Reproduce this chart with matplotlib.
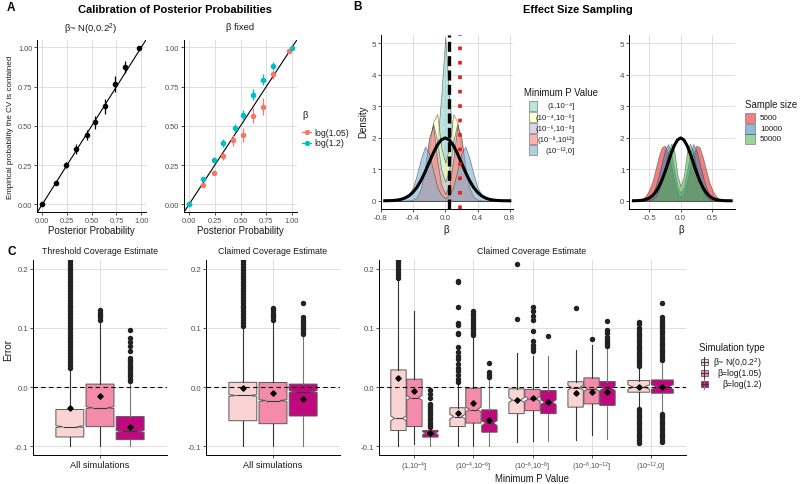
import matplotlib
matplotlib.use("Agg")
import matplotlib.pyplot as plt
from matplotlib.patches import Rectangle
from matplotlib.lines import Line2D
import numpy as np

plt.rcParams['font.family'] = ['Liberation Sans', 'DejaVu Sans']
plt.rcParams['mathtext.fontset'] = 'custom'
plt.rcParams['mathtext.rm'] = 'Liberation Sans'
plt.rcParams['mathtext.it'] = 'Liberation Sans:italic'
plt.rcParams['axes.unicode_minus'] = False

nan = np.nan

# ---------------- A: calibration ----------------
post_norm = [0.0, 0.135, 0.24, 0.34, 0.455, 0.532, 0.637, 0.738, 0.84, 0.974]
emp_norm = [0.0, 0.134, 0.25, 0.352, 0.443, 0.522, 0.624, 0.766, 0.876, 0.995]
err_norm = [0.003, 0.005, 0.017, 0.03, 0.03, 0.042, 0.048, 0.053, 0.037, 0.005]

post_105 = [0.0, 0.139, 0.243, 0.333, 0.43, 0.521, 0.618, 0.716, 0.813, 0.97]
emp_105 = [0.0, 0.126, 0.202, 0.307, 0.408, 0.444, 0.565, 0.622, 0.828, 0.975]
err_105 = [0.003, 0.008, 0.015, 0.025, 0.035, 0.045, 0.05, 0.055, 0.03, 0.01]

post_12 = [0.0, 0.139, 0.243, 0.333, 0.45, 0.521, 0.618, 0.716, 0.813, 1.0]
emp_12 = [0.0, 0.164, 0.284, 0.391, 0.486, 0.568, 0.698, 0.795, 0.883, 0.995]
err_12 = [0.003, 0.012, 0.018, 0.025, 0.025, 0.03, 0.035, 0.035, 0.025, 0.005]

# ---------------- B: effect size densities ----------------
beta_grid = [-0.75, -0.7, -0.65, -0.6, -0.55, -0.5, -0.45, -0.4, -0.35, -0.3, -0.25,
             -0.2, -0.15, -0.1, -0.05, 0.0, 0.05, 0.1, 0.15, 0.2, 0.25, 0.3, 0.35,
             0.4, 0.45, 0.5, 0.55, 0.6, 0.65, 0.7, 0.75, 0.8]
prior_dens = [0.002, 0.004, 0.01, 0.022, 0.045, 0.088, 0.159, 0.27, 0.431, 0.648, 0.913,
              1.21, 1.506, 1.76, 1.933, 1.995, 1.933, 1.76, 1.506, 1.21, 0.913, 0.648, 0.431,
              0.27, 0.159, 0.088, 0.045, 0.022, 0.01, 0.004, 0.002, 0.001]

pval_labels = ['(1,10⁻⁴]', '(10⁻⁴,10⁻⁶]', '(10⁻⁶,10⁻⁸]', '(10⁻⁸,10¹²]', '(10⁻¹²,0]']
dens_p1 = [0, 0, 0, 0, 0, 0, 0, 0, 0.01, 0.05, 0.15, 0.4, 0.9, 1.8, 3.3, 5.2, 3.3, 1.8, 0.9,
           0.4, 0.15, 0.05, 0.01, 0, 0, 0, 0, 0, 0, 0, 0, 0]
dens_p2 = [0, 0, 0, 0, 0, 0, 0, 0.02, 0.08, 0.28, 0.75, 1.6, 2.5, 2.75, 1.7, 1.2, 1.7, 2.75,
           2.5, 1.6, 0.75, 0.28, 0.08, 0.02, 0, 0, 0, 0, 0, 0, 0, 0]
dens_p3 = [0, 0, 0, 0, 0, 0, 0, 0.03, 0.12, 0.4, 1.0, 1.9, 2.45, 1.9, 1.0, 0.6, 1.0, 1.9,
           2.45, 1.9, 1.0, 0.4, 0.12, 0.03, 0, 0, 0, 0, 0, 0, 0, 0]
dens_p4 = [0, 0, 0, 0, 0, 0, 0.01, 0.04, 0.13, 0.42, 1.1, 2.0, 2.38, 1.3, 0.5, 0.22, 0.5, 1.3,
           2.38, 2.0, 1.1, 0.42, 0.13, 0.04, 0.01, 0, 0, 0, 0, 0, 0, 0]
dens_p5 = [0, 0, 0.01, 0.02, 0.05, 0.1, 0.2, 0.42, 0.85, 1.35, 1.72, 1.5, 0.95, 0.45, 0.18,
           0.08, 0.18, 0.45, 0.95, 1.5, 1.72, 1.35, 0.85, 0.42, 0.2, 0.1, 0.05, 0.02, 0.01, 0, 0, 0]
pval_dens = [dens_p1, dens_p2, dens_p3, dens_p4, dens_p5]
pval_colors = ['#8DD3C7', '#FFFFB3', '#BEBADA', '#FB8072', '#80B1D3']

size_labels = ['5000', '10000', '50000']
dens_5000 = [0, 0.01, 0.03, 0.07, 0.17, 0.35, 0.62, 1.0, 1.4, 1.7, 1.75, 1.5, 1.1, 0.6, 0.25,
             0.12, 0.25, 0.6, 1.1, 1.5, 1.75, 1.7, 1.4, 1.0, 0.62, 0.35, 0.17, 0.07, 0.03, 0.01, 0, 0]
dens_10000 = [0, 0, 0, 0.01, 0.04, 0.1, 0.22, 0.45, 0.8, 1.2, 1.6, 1.8, 1.5, 0.95, 0.45,
              0.25, 0.45, 0.95, 1.5, 1.8, 1.6, 1.2, 0.8, 0.45, 0.22, 0.1, 0.04, 0.01, 0, 0, 0, 0]
dens_50000 = [0, 0, 0, 0, 0, 0.02, 0.05, 0.14, 0.32, 0.62, 1.05, 1.5, 1.82, 1.55, 0.8,
              0.45, 0.8, 1.55, 1.82, 1.5, 1.05, 0.62, 0.32, 0.14, 0.05, 0.02, 0, 0, 0, 0, 0, 0]
size_dens = [dens_5000, dens_10000, dens_50000]
size_colors = ['#E41A1C', '#377EB8', '#4DAF4A']
beta_105 = 0.0488
beta_12 = 0.1823

# ---------------- C: coverage error boxplots ----------------
sim_labels = ['β~ N(0,0.2$^2$)', 'β=log(1.05)', 'β=log(1.2)']
sim_colors = ['#FAD4D3', '#F48BAA', '#C0087F']
whisk_colors = ['#333333', '#333333', '#777777']

thr_q1 = [-0.0845, -0.067, -0.089]
thr_med = [-0.067, -0.035, -0.075]
thr_q3 = [-0.038, 0.005, -0.050]
thr_lo = [-0.100, -0.100, -0.100]
thr_hi = [0.030, 0.112, 0.008]
thr_mean = [-0.035, -0.0155, -0.068]
thr_out = [
    [0.033, 0.038, 0.043, 0.048, 0.053, 0.058, 0.063, 0.068, 0.073, 0.078, 0.083, 0.088,
     0.093, 0.098, 0.103, 0.108, 0.113, 0.118, 0.123, 0.128, 0.133, 0.138, 0.143, 0.148,
     0.153, 0.158, 0.163, 0.168, 0.173, 0.178, 0.183, 0.188, 0.193, 0.198, 0.203, 0.208,
     0.213, 0.218],
    [0.114, 0.118, 0.122, 0.126, 0.130],
    [0.010, 0.014, 0.018, 0.022, 0.026, 0.030, 0.034, 0.038, 0.042, 0.046, 0.050,
     0.061, 0.069, 0.077, 0.083, 0.097],
]

clm_q1 = [-0.057, -0.062, -0.049]
clm_med = [-0.0143, -0.0228, -0.0076]
clm_q3 = [0.008, 0.0077, 0.005]
clm_lo = [-0.100, -0.100, -0.100]
clm_hi = [0.100, 0.112, 0.086]
clm_mean = [-0.001, -0.0098, -0.0195]
clm_out = [
    [0.103, 0.108, 0.113, 0.118, 0.123, 0.128, 0.133, 0.138, 0.143, 0.148, 0.153, 0.158,
     0.163, 0.168, 0.173, 0.178, 0.183, 0.188, 0.193, 0.198, 0.203, 0.208, 0.213, 0.218],
    [0.114, 0.118, 0.122, 0.126, 0.130, 0.134],
    [0.090, 0.094, 0.098, 0.102, 0.106, 0.110, 0.114, 0.118, 0.142],
]

mp_labels = ['(1,10$^{-4}$]', '(10$^{-4}$,10$^{-6}$]', '(10$^{-6}$,10$^{-8}$]',
             '(10$^{-8}$,10$^{-12}$]', '(10$^{-12}$,0]']
mp_q1 = [[-0.0736, -0.0668, -0.0847], [-0.0668, -0.061, -0.0764], [-0.045, -0.040, -0.045],
         [-0.034, -0.0285, -0.031], [-0.0087, nan, -0.0104]]
mp_med = [[-0.053, -0.0183, -0.078], [-0.050, -0.038, -0.061], [-0.022, -0.020, -0.0256],
          [-0.001, -0.003, -0.002], [0.0, nan, 0.0]]
mp_q3 = [[0.029, 0.0133, -0.0736], [-0.035, -0.002, -0.0386], [-0.003, -0.004, -0.006],
         [0.009, 0.0155, 0.0093], [0.011, nan, 0.012]]
mp_lo = [[-0.100, -0.097, -0.100], [-0.100, -0.100, -0.100], [-0.093, -0.0905, -0.091],
         [-0.089, -0.081, -0.0877], [-0.035, nan, -0.043]]
mp_hi = [[0.180, 0.128, -0.071], [0.005, 0.085, 0.012], [0.058, 0.052, 0.053],
         [0.062, 0.072, 0.0675], [0.034, nan, 0.043]]
mp_mean = [[0.016, -0.006, -0.077], [-0.044, -0.027, -0.055], [-0.022, -0.019, -0.025],
           [-0.0104, -0.0076, -0.0076], [0.0, nan, 0.0]]
mp_out = [
    [[0.185, 0.190, 0.195, 0.200, 0.205, 0.210, 0.215], [],
     [-0.068, -0.064, -0.060, -0.056, -0.052, -0.048, -0.044, -0.040, -0.036, -0.032,
      -0.028, -0.018, -0.0115, -0.005]],
    [[0.008, 0.014, 0.020, 0.027, 0.033, 0.039, 0.047, 0.053, 0.060, 0.067, 0.090, 0.092,
      0.105, 0.108, 0.136, 0.177, 0.180],
     [0.088, 0.092, 0.096, 0.100, 0.104, 0.108, 0.112, 0.116, 0.120, 0.124, 0.128],
     [0.017, 0.021, 0.025, 0.041]],
    [[0.116, 0.208],
     [0.061, 0.066, 0.072, 0.0776, 0.0946, 0.114, 0.121, 0.128, 0.135],
     [0.087]],
    [[0.1335], [0.0815],
     [0.070, 0.073, 0.076, 0.079, 0.0855, 0.091, 0.097, 0.1126]],
    [[0.036, 0.040, 0.044, 0.048, 0.052, 0.056, 0.060, 0.064, 0.068, 0.072, 0.076, 0.080,
      0.084, 0.088, 0.092, 0.096, 0.100, 0.106, 0.110,
      -0.037, -0.041, -0.045, -0.049, -0.053, -0.057, -0.061, -0.065, -0.069, -0.073,
      -0.077, -0.081, -0.085, -0.089, -0.0944],
     [],
     [0.045, 0.049, 0.053, 0.057, 0.061, 0.065, 0.069, 0.073, 0.077, 0.081, 0.085, 0.089,
      0.093, 0.097, 0.101, 0.105, 0.109, 0.113, 0.118, 0.142,
      -0.045, -0.049, -0.053, -0.057, -0.061, -0.065, -0.069, -0.073, -0.077, -0.081,
      -0.085, -0.089, -0.093]],
]

# ---------------- figure helpers ----------------
W, H = 800, 485
fig = plt.figure(figsize=(8, 4.85), dpi=100)


def add_ax(l, t, r, b):
    return fig.add_axes([l / W, 1 - b / H, (r - l) / W, (b - t) / H])


def ftext(x, y, s, **kw):
    kw.setdefault('ha', 'center')
    kw.setdefault('va', 'center')
    fig.text(x / W, 1 - y / H, s, **kw)


def frect(x0, y0, x1, y1, **kw):
    fig.patches.append(Rectangle((x0 / W, 1 - y1 / H), (x1 - x0) / W, (y1 - y0) / H,
                                 transform=fig.transFigure, figure=fig, **kw))


def fline(xs, ys, **kw):
    fig.lines.append(Line2D([x / W for x in xs], [1 - y / H for y in ys],
                            transform=fig.transFigure, figure=fig, **kw))


def style(ax, size):
    for s in ['top', 'right']:
        ax.spines[s].set_visible(False)
    for s in ['left', 'bottom']:
        ax.spines[s].set_color('black')
        ax.spines[s].set_linewidth(0.7)
    ax.grid(True, color='#DEDEDE', lw=0.7)
    ax.set_axisbelow(True)
    ax.tick_params(length=2, width=0.6, color='#333333', labelcolor='#4D4D4D',
                   labelsize=size, pad=1.5)


# ---------------- A ----------------
red, teal = '#F8766D', '#00BFC4'
axA1 = add_ax(37.3, 40.5, 146.2, 213.2)
axA2 = add_ax(183.9, 40.5, 297.2, 213.2)
for ax in (axA1, axA2):
    style(ax, 5.3)
    ax.set_xlim(-0.05, 1.05)
    ax.set_ylim(-0.05, 1.05)
    ax.set_xticks([0, 0.25, 0.5, 0.75, 1.0])
    ax.set_yticks([0, 0.25, 0.5, 0.75, 1.0])
    ax.set_xticklabels(['0.00', '0.25', '0.50', '0.75', '1.00'])
    ax.set_yticklabels(['0.00', '0.25', '0.50', '0.75', '1.00'])
    ax.axline((0, 0), slope=1, color='black', lw=0.8, zorder=2)
axA1.errorbar(post_norm, emp_norm, yerr=err_norm, fmt='o', color='black', ms=3,
              elinewidth=0.9, capsize=0, zorder=3)
axA2.errorbar(post_105, emp_105, yerr=err_105, fmt='o', color=red, ms=3,
              elinewidth=0.9, capsize=0, zorder=3)
axA2.errorbar(post_12, emp_12, yerr=err_12, fmt='o', color=teal, ms=3,
              elinewidth=0.9, capsize=0, zorder=3)

ftext(174.5, 10, 'Calibration of Posterior Probabilities', fontsize=8, fontweight='bold')
ftext(7, 8, 'A', fontsize=8.5, fontweight='bold', ha='left')
ftext(91, 29, 'β~ N(0,0.2$^2$)', fontsize=6.8, color='#1A1A1A')
ftext(240, 28, 'β fixed', fontsize=6.8, color='#1A1A1A')
ftext(91, 231, 'Posterior Probability', fontsize=7, color='#1A1A1A')
ftext(240, 231, 'Posterior Probability', fontsize=7, color='#1A1A1A')
ftext(10.5, 127, 'Empirical probability the CV is contained', fontsize=5.8,
      rotation=90, color='#1A1A1A')
# legend for beta
ftext(302, 116, 'β', fontsize=6.8, ha='left', color='#1A1A1A')
for yy, col, lab in [(133, red, 'log(1.05)'), (144, teal, 'log(1.2)')]:
    fline([302, 311], [yy, yy], color=col, lw=0.9)
    fline([306.5], [yy], color=col, marker='o', ms=2.8, ls='none')
    ftext(314, yy, lab, fontsize=6.3, ha='left', color='#1A1A1A')

# ---------------- B ----------------
axB1 = add_ax(380.7, 36, 513, 210)
axB2 = add_ax(629.3, 36, 735, 210)
for ax in (axB1, axB2):
    style(ax, 5.8)
    ax.set_ylim(-0.26, 5.26)
    ax.set_yticks([0, 1, 2, 3, 4, 5])
axB1.set_xlim(-0.8, 0.84)
axB1.set_xticks([-0.8, -0.4, 0.0, 0.4, 0.8])
axB1.set_xticklabels(['-0.8', '-0.4', '0.0', '0.4', '0.8'])
axB2.set_xlim(-0.816, 0.862)
axB2.set_xticks([-0.5, 0.0, 0.5])
axB2.set_xticklabels(['-0.5', '0.0', '0.5'])

for dens, col in zip(pval_dens, pval_colors):
    axB1.fill_between(beta_grid, dens, 0, facecolor=col, alpha=0.6,
                      edgecolor='#333333', lw=0.5, zorder=2)
axB1.plot(beta_grid, prior_dens, color='black', lw=2.2, zorder=4)
axB1.axvline(beta_105, color='black', lw=2.4, ls=(0, (3, 1.3)), zorder=5)
axB1.axvline(beta_12, color='#E41A1C', lw=2.6, ls=(0, (1, 3.0)), zorder=5)

for dens, col in zip(size_dens, size_colors):
    axB2.fill_between(beta_grid, dens, 0, facecolor=col, alpha=0.55,
                      edgecolor='#333333', lw=0.5, zorder=2)
axB2.plot(beta_grid, prior_dens, color='black', lw=2.2, zorder=4)

ftext(578, 10, 'Effect Size Sampling', fontsize=8, fontweight='bold')
ftext(357, 7, 'B', fontsize=8.5, fontweight='bold')
ftext(363, 122, 'Density', fontsize=7, rotation=90, color='#1A1A1A')
ftext(446, 230, 'β', fontsize=7, color='#1A1A1A')
ftext(681, 230, 'β', fontsize=7, color='#1A1A1A')

ftext(524, 92.7, 'Minimum P Value', fontsize=6.9, ha='left', color='#1A1A1A')
for i, (lab, col) in enumerate(zip(pval_labels, pval_colors)):
    yc = 107 + i * 11
    frect(529, yc - 5.2, 537, yc + 5.2, facecolor=col, alpha=0.6, edgecolor='#333333', lw=0.5)
    ftext(575, yc, lab, fontsize=5.6, ha='right', color='#1A1A1A')

ftext(745, 105, 'Sample size', fontsize=6.9, ha='left', color='#1A1A1A')
for i, (lab, col) in enumerate(zip(size_labels, size_colors)):
    yc = 119 + i * 10.5
    frect(745, yc - 5, 755, yc + 5, facecolor=col, alpha=0.55, edgecolor='#333333', lw=0.5)
    ftext(760, yc, lab, fontsize=5.8, ha='left', color='#1A1A1A')


# ---------------- C ----------------
def draw_box(ax, pos, width, q1, med, q3, lo, hi, mean, out, gi, notch):
    notch = min(notch, 0.2 * (q3 - q1))
    st = dict(q1=q1, med=med, q3=q3, whislo=lo, whishi=hi, mean=mean, fliers=out,
              cilo=med - notch, cihi=med + notch)
    ax.bxp([st], positions=[pos], widths=[width], patch_artist=True, shownotches=True,
           showmeans=True, showcaps=False,
           boxprops=dict(facecolor=sim_colors[gi], edgecolor='#5A5A5A', lw=0.7),
           whiskerprops=dict(color=whisk_colors[gi], lw=0.8),
           medianprops=dict(color='#3A3A3A', lw=0.8),
           meanprops=dict(marker='D', markerfacecolor='black', markeredgecolor='black',
                          markersize=2.7),
           flierprops=dict(marker='o', markerfacecolor='#222222', markeredgecolor='#222222',
                           markersize=2.9, linestyle='none'),
           manage_ticks=False)


def style_c(ax):
    style(ax, 5.6)
    ax.set_ylim(-0.115, 0.215)
    ax.set_yticks([-0.1, 0.0, 0.1, 0.2])
    ax.set_yticklabels(['-0.1', '0.0', '0.1', '0.2'])
    ax.axhline(0, color='black', lw=0.8, ls=(0, (4, 3)), zorder=6)


axC1 = add_ax(33, 261, 167, 456)
axC2 = add_ax(206, 261, 340, 456)
axC3 = add_ax(379, 261, 686, 456)
for ax, q1, med, q3, lo, hi, mn, out in [
        (axC1, thr_q1, thr_med, thr_q3, thr_lo, thr_hi, thr_mean, thr_out),
        (axC2, clm_q1, clm_med, clm_q3, clm_lo, clm_hi, clm_mean, clm_out)]:
    style_c(ax)
    ax.set_xlim(0.4, 1.6)
    ax.set_xticks([1])
    ax.set_xticklabels(['All simulations'], fontsize=6.6, color='#1A1A1A')
    for g, off in enumerate([-0.27, 0.0, 0.27]):
        draw_box(ax, 1 + off, 0.25, q1[g], med[g], q3[g], lo[g], hi[g], mn[g], out[g], g,
                 notch=0.0015)

style_c(axC3)
axC3.set_xlim(0.4, 5.6)
axC3.set_xticks([1, 2, 3, 4, 5])
axC3.set_xticklabels(mp_labels, fontsize=5.2)
for c in range(5):
    groups = [g for g in range(3) if not np.isnan(mp_q1[c][g])]
    if len(groups) == 3:
        offs, wid = [-0.27, 0.0, 0.27], 0.26
    else:
        offs, wid = [-0.2, 0.2], 0.37
    for g, off in zip(groups, offs):
        draw_box(axC3, c + 1 + off, wid, mp_q1[c][g], mp_med[c][g], mp_q3[c][g],
                 mp_lo[c][g], mp_hi[c][g], mp_mean[c][g], mp_out[c][g], g, notch=0.004)

ftext(7, 252, 'C', fontsize=8.5, fontweight='bold', ha='left')
ftext(100, 252, 'Threshold Coverage Estimate', fontsize=6.3, color='#1A1A1A')
ftext(273, 252, 'Claimed Coverage Estimate', fontsize=6.3, color='#1A1A1A')
ftext(532, 252, 'Claimed Coverage Estimate', fontsize=6.3, color='#1A1A1A')
ftext(8, 350, 'Error', fontsize=7.2, rotation=90, color='#1A1A1A')
ftext(532, 479, 'Minimum P Value', fontsize=6.9, color='#1A1A1A')

ftext(699.3, 347.7, 'Simulation type', fontsize=6.9, ha='left', color='#1A1A1A')
for i, (lab, col) in enumerate(zip(sim_labels, sim_colors)):
    yc = 362.7 + i * 11
    fline([704.2, 704.2], [yc - 5, yc + 5], color=whisk_colors[i], lw=0.7)
    frect(700.7, yc - 3.2, 707.7, yc + 3.2, facecolor=col, edgecolor='#5A5A5A', lw=0.6)
    fline([700.7, 707.7], [yc, yc], color='#3A3A3A', lw=0.7)
    ftext(762, yc, lab, fontsize=6.2, ha='right', color='#1A1A1A')

fig.savefig('out.png', dpi=100)
